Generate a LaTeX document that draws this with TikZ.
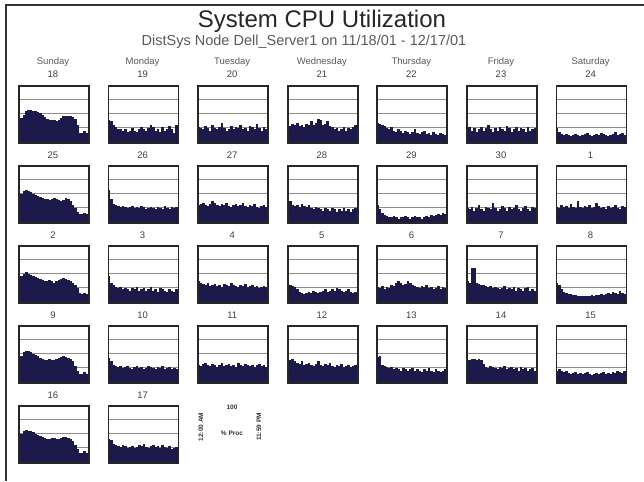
\documentclass[tikz,border=0pt]{standalone}
\usepackage{fontspec}
\setmainfont{Liberation Sans}

\definecolor{cpufill}{HTML}{1B1A4A}
\definecolor{gridgray}{HTML}{8C8C8C}
\definecolor{subgray}{HTML}{5A5A5A}

\tikzset{
  frameline/.style={draw=black!80, line width=1.4pt},
  chartframe/.style={draw=black!85, line width=1.7pt, minimum width=70pt,
    minimum height=57pt, inner sep=0pt, anchor=north west},
  gridline/.style={draw=gridgray, line width=0.8pt},
  titletext/.style={font=\fontsize{24}{24}\selectfont, text=black!85, anchor=base},
  subtext/.style={font=\fontsize{14.5}{15}\selectfont, text=subgray, anchor=base},
  daylabel/.style={font=\fontsize{9.5}{10}\selectfont, text=black!65, anchor=base},
  datelabel/.style={font=\fontsize{9.5}{10}\selectfont, text=black!75, anchor=base},
  legendtext/.style={font=\fontsize{6.5}{7}\selectfont\bfseries, text=black!80, inner sep=0pt},
}

% One daily chart: name, column, row, day of month, hourly samples in percent
\newcommand\cpuchart[5]{%
  \begin{scope}[shift={({18+89.6*#2},{85+80*#3})}]
    \foreach \g in {14.25,28.5,42.75}
      \draw[gridline] (0,\g) -- (70,\g);
    \foreach \v [count=\i from 0] in {#5}
      \fill[cpufill] ({\i*70/30},57) rectangle ({(\i+1)*70/30+0.3},{57-0.57*\v});
    \node[chartframe] (#1) at (0,0) {};
    \node[datelabel] (#1-date) at (35,-7) {#4};
  \end{scope}}

\begin{document}
\begin{tikzpicture}[x=1pt,y=-1pt]
  \fill[white] (0,0) rectangle (644,481);
  \useasboundingbox (0,0) rectangle (644,481);

  % page frame (top and left edges only)
  \draw[frameline] (644,5) -- (6,5) -- (6,481);

  % headings
  \node[titletext] (title) at (322,28) {System CPU Utilization};
  \node[subtext] (subtitle) at (304,46) {DistSys Node Dell\_Server1 on 11/18/01 - 12/17/01};

  % weekday headings
  \foreach \d [count=\c from 0] in {Sunday,Monday,Tuesday,Wednesday,Thursday,Friday,Saturday}
    \node[daylabel] (day-\c) at ({53+89.6*\c},65) {\d};

  % week 1
  \cpuchart{d18}{0}{0}{18}{40,42,48,55,57,57,55,54,52,50,47,44,41,39,38,38,37,38,42,45,46,46,45,43,40,30,16,16,20,16}
  \cpuchart{d19}{1}{0}{19}{38,36,30,26,22,22,20,22,18,20,24,20,18,22,26,22,20,24,30,26,20,22,18,26,20,22,28,22,16,30}
  \cpuchart{d20}{2}{0}{20}{26,24,22,28,24,20,30,24,22,26,34,24,20,22,28,22,26,24,30,22,24,20,28,26,22,32,24,20,26,22}
  \cpuchart{d21}{3}{0}{21}{30,28,32,30,34,28,30,26,32,30,36,30,34,40,38,30,32,36,28,26,22,24,20,22,26,20,24,22,26,30}
  \cpuchart{d22}{4}{0}{22}{34,32,30,28,24,22,26,20,18,22,20,16,20,18,14,18,22,16,14,18,20,14,16,12,18,14,12,16,14,12}
  \cpuchart{d23}{5}{0}{23}{22,26,20,24,18,22,26,20,24,30,22,18,24,20,26,22,20,28,24,18,22,26,20,24,22,18,26,20,22,24}
  \cpuchart{d24}{6}{0}{24}{24,18,14,12,14,12,10,12,14,12,10,12,14,16,12,10,12,14,12,16,14,12,10,12,14,18,12,14,16,12}

  % week 2
  \cpuchart{d25}{0}{1}{25}{42,50,54,56,55,52,50,48,46,44,42,40,40,38,40,42,40,38,36,38,42,40,36,30,24,18,14,14,16,14}
  \cpuchart{d26}{1}{1}{26}{56,40,32,30,28,26,28,26,24,26,28,24,26,24,28,26,22,24,26,24,22,26,24,22,28,24,22,26,24,26}
  \cpuchart{d27}{2}{1}{27}{30,32,34,30,28,32,36,34,30,28,32,30,34,28,26,30,32,28,30,34,28,26,30,28,32,26,24,28,30,26}
  \cpuchart{d28}{3}{1}{28}{38,36,30,28,30,26,32,28,26,30,24,22,26,24,22,20,24,22,20,24,22,18,22,20,24,20,22,18,22,24}
  \cpuchart{d29}{4}{1}{29}{30,22,16,12,10,8,8,10,8,6,8,8,10,8,6,8,10,8,8,6,8,10,8,12,10,12,14,12,16,14}
  \cpuchart{d30}{5}{1}{30}{24,22,26,20,24,30,22,20,26,24,22,34,24,20,22,28,24,20,26,22,24,30,22,20,24,28,22,20,26,24}
  \cpuchart{d1}{6}{1}{1}{26,24,30,26,28,24,32,26,24,36,26,24,28,26,30,24,26,34,28,24,26,22,28,24,26,30,24,22,28,26}

  % week 3
  \cpuchart{d2}{0}{2}{2}{44,46,50,52,50,48,46,44,42,40,38,36,36,38,36,34,36,38,40,42,40,38,36,34,30,24,16,14,16,14}
  \cpuchart{d3}{1}{2}{3}{46,34,30,26,24,26,22,24,22,20,24,22,26,20,22,24,20,22,26,20,22,18,24,22,20,18,22,20,18,22}
  \cpuchart{d4}{2}{2}{4}{36,34,32,30,34,28,30,32,28,30,26,32,30,28,34,30,28,26,30,28,32,26,28,30,26,28,24,26,28,26}
  \cpuchart{d5}{3}{2}{5}{32,30,28,26,22,18,16,14,16,18,16,20,18,16,18,20,22,18,20,22,20,24,22,20,18,20,22,18,16,18}
  \cpuchart{d6}{4}{2}{6}{26,24,28,22,26,24,30,28,34,36,34,30,32,36,34,30,28,26,24,28,26,30,24,26,22,24,28,22,26,24}
  \cpuchart{d7}{5}{2}{7}{36,34,60,60,34,32,30,30,28,26,28,24,26,24,22,24,28,22,24,22,26,20,24,22,20,24,26,20,22,20}
  \cpuchart{d8}{6}{2}{8}{34,30,22,18,16,14,14,12,12,10,10,10,10,10,10,12,10,12,12,14,12,14,16,14,18,16,14,20,16,14}

  % week 4
  \cpuchart{d9}{0}{3}{9}{44,46,52,54,55,53,50,48,45,42,40,38,38,40,38,38,40,42,44,45,44,42,40,36,28,20,14,14,18,14}
  \cpuchart{d10}{1}{3}{10}{42,36,30,28,26,28,24,26,28,24,22,26,28,24,26,22,24,28,26,24,22,26,24,28,22,24,26,22,24,22}
  \cpuchart{d11}{2}{3}{11}{30,28,32,34,30,28,32,30,26,30,34,28,30,32,28,30,26,34,30,28,32,30,28,30,26,30,32,28,30,26}
  \cpuchart{d12}{3}{3}{12}{36,38,40,36,34,32,36,30,32,34,30,28,32,36,30,28,32,30,34,28,26,30,28,32,26,28,30,26,28,30}
  \cpuchart{d13}{4}{3}{13}{44,46,30,28,26,24,26,22,24,22,20,24,22,20,22,24,20,22,20,18,22,20,24,20,18,22,20,18,20,22}
  \cpuchart{d14}{5}{3}{14}{36,38,40,40,38,40,38,32,26,24,28,26,24,22,26,24,28,22,24,26,22,24,20,26,22,24,20,22,24,20}
  \cpuchart{d15}{6}{3}{15}{20,22,20,18,20,16,14,16,18,14,16,14,16,18,14,12,14,16,14,16,18,14,16,14,18,16,20,18,16,20}

  % week 5
  \cpuchart{d16}{0}{4}{16}{48,50,54,56,55,54,52,50,48,46,44,42,40,40,42,42,40,40,42,44,44,42,40,36,30,22,16,16,20,16}
  \cpuchart{d17}{1}{4}{17}{40,38,32,30,28,26,30,28,24,26,28,24,26,30,28,32,26,24,28,30,26,28,24,30,26,24,28,22,24,26}

  % scale key
  \node[legendtext] (key-max) at (232,407) {100};
  \node[legendtext] (key-unit) at (232,433) {\% Proc};
  \node[legendtext, rotate=90] (key-start) at (201,427) {12:00 AM};
  \node[legendtext, rotate=90] (key-end) at (259,427) {11:59 PM};
\end{tikzpicture}
\end{document}
